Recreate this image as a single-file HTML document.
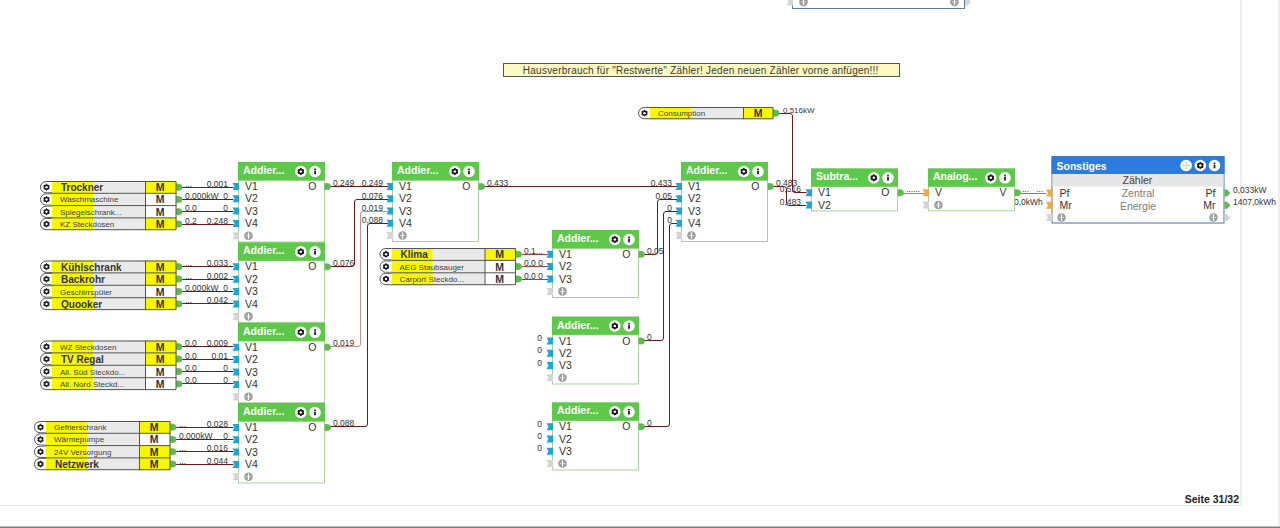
<!DOCTYPE html><html><head><meta charset="utf-8"><style>html,body{margin:0;padding:0;background:#fff;overflow:hidden} svg{display:block} text{font-family:"Liberation Sans", sans-serif}</style></head><body>
<svg width="1280" height="528" viewBox="0 0 1280 528">
<rect x="1240" y="0" width="2" height="506" fill="#f0f0f0"/>
<rect x="0" y="505" width="1241" height="1" fill="#e4e4e4"/>
<rect x="1278" y="0" width="2" height="526" fill="#f0f0f0"/>
<rect x="0" y="526.5" width="1280" height="1.5" fill="#7e7e7e"/>
<text x="1239" y="503" font-size="10.5" font-weight="bold" fill="#222" text-anchor="end" >Seite 31/32</text>
<rect x="792.5" y="-10" width="172" height="18.5" fill="#fff" stroke="#5a7f99" stroke-width="1"/>
<path d="M786.5,-1.5 L793,-1.5 L793,5.5 L786.5,5.5 L788.5,2 Z" fill="#d4d4d4"/>
<circle cx="803.5" cy="2" r="4.3" fill="#9c9c9c"/>
<rect x="800.7" y="1.5" width="5.6" height="1" fill="#d8d8d8"/>
<rect x="802.9" y="-1.2000000000000002" width="1.2" height="6.4" fill="#fff"/>
<circle cx="954.5" cy="2" r="4.3" fill="#9c9c9c"/>
<rect x="951.7" y="1.5" width="5.6" height="1" fill="#d8d8d8"/>
<rect x="953.9" y="-1.2000000000000002" width="1.2" height="6.4" fill="#fff"/>
<path d="M965,-1.5 L967.5,-1.5 L971,2 L967.5,5.5 L965,5.5 Z" fill="#d4d4d4"/>
<rect x="503.5" y="63.5" width="396" height="13" fill="#fdf9c0" stroke="#555" stroke-width="1"/>
<text x="522.8" y="73.6" font-size="10" font-weight="normal" fill="#3a3a30" text-anchor="start" textLength="355.6" lengthAdjust="spacing">Hausverbrauch für "Restwerte" Zähler! Jeden neuen Zähler vorne anfügen!!!</text>
<path d="M178.5,187.5 L233.5,187.5" fill="none" stroke="#6e1818" stroke-width="1"/>
<text x="185" y="186.65" font-size="8.5" font-weight="normal" fill="#333" text-anchor="start" >...</text>
<text x="228" y="186.65" font-size="8.5" font-weight="normal" fill="#333" text-anchor="end" >0,001</text>
<path d="M178.5,199.5 L233.5,199.5" fill="none" stroke="#6e1818" stroke-width="1"/>
<text x="185" y="198.95000000000002" font-size="8.5" font-weight="normal" fill="#333" text-anchor="start" >0,000kW</text>
<text x="228" y="198.95000000000002" font-size="8.5" font-weight="normal" fill="#333" text-anchor="end" >0</text>
<path d="M178.5,211.5 L233.5,211.5" fill="none" stroke="#6e1818" stroke-width="1"/>
<text x="185" y="211.25" font-size="8.5" font-weight="normal" fill="#333" text-anchor="start" >0,0</text>
<text x="228" y="211.25" font-size="8.5" font-weight="normal" fill="#333" text-anchor="end" >0</text>
<path d="M178.5,224.5 L233.5,224.5" fill="none" stroke="#6e1818" stroke-width="1"/>
<text x="185" y="223.55" font-size="8.5" font-weight="normal" fill="#333" text-anchor="start" >0,2</text>
<text x="228" y="223.55" font-size="8.5" font-weight="normal" fill="#333" text-anchor="end" >0,248</text>
<path d="M178.5,266.5 L233.5,266.5" fill="none" stroke="#6e1818" stroke-width="1"/>
<text x="185" y="266.2" font-size="8.5" font-weight="normal" fill="#333" text-anchor="start" >...</text>
<text x="228" y="266.2" font-size="8.5" font-weight="normal" fill="#333" text-anchor="end" >0,033</text>
<path d="M178.5,279.5 L233.5,279.5" fill="none" stroke="#6e1818" stroke-width="1"/>
<text x="185" y="278.59999999999997" font-size="8.5" font-weight="normal" fill="#333" text-anchor="start" >...</text>
<text x="228" y="278.59999999999997" font-size="8.5" font-weight="normal" fill="#333" text-anchor="end" >0,002</text>
<path d="M178.5,291.5 L233.5,291.5" fill="none" stroke="#6e1818" stroke-width="1"/>
<text x="185" y="291.0" font-size="8.5" font-weight="normal" fill="#333" text-anchor="start" >0,000kW</text>
<text x="228" y="291.0" font-size="8.5" font-weight="normal" fill="#333" text-anchor="end" >0</text>
<path d="M178.5,303.5 L233.5,303.5" fill="none" stroke="#6e1818" stroke-width="1"/>
<text x="185" y="303.4" font-size="8.5" font-weight="normal" fill="#333" text-anchor="start" >...</text>
<text x="228" y="303.4" font-size="8.5" font-weight="normal" fill="#333" text-anchor="end" >0,042</text>
<path d="M178.5,346.5 L233.5,346.5" fill="none" stroke="#6e1818" stroke-width="1"/>
<text x="185" y="346.2" font-size="8.5" font-weight="normal" fill="#333" text-anchor="start" >0,0</text>
<text x="228" y="346.2" font-size="8.5" font-weight="normal" fill="#333" text-anchor="end" >0,009</text>
<path d="M178.5,359.5 L233.5,359.5" fill="none" stroke="#6e1818" stroke-width="1"/>
<text x="185" y="358.59999999999997" font-size="8.5" font-weight="normal" fill="#333" text-anchor="start" >0,0</text>
<text x="228" y="358.59999999999997" font-size="8.5" font-weight="normal" fill="#333" text-anchor="end" >0,01</text>
<path d="M178.5,371.5 L233.5,371.5" fill="none" stroke="#6e1818" stroke-width="1"/>
<text x="185" y="371.0" font-size="8.5" font-weight="normal" fill="#333" text-anchor="start" >0,0</text>
<text x="228" y="371.0" font-size="8.5" font-weight="normal" fill="#333" text-anchor="end" >0</text>
<path d="M178.5,383.5 L233.5,383.5" fill="none" stroke="#6e1818" stroke-width="1"/>
<text x="185" y="383.4" font-size="8.5" font-weight="normal" fill="#333" text-anchor="start" >0,0</text>
<text x="228" y="383.4" font-size="8.5" font-weight="normal" fill="#333" text-anchor="end" >0</text>
<path d="M172.5,427.5 L233.5,427.5" fill="none" stroke="#6e1818" stroke-width="1"/>
<text x="179" y="426.65" font-size="8.5" font-weight="normal" fill="#333" text-anchor="start" >...</text>
<text x="228" y="426.65" font-size="8.5" font-weight="normal" fill="#333" text-anchor="end" >0,028</text>
<path d="M172.5,439.5 L233.5,439.5" fill="none" stroke="#6e1818" stroke-width="1"/>
<text x="179" y="438.95" font-size="8.5" font-weight="normal" fill="#333" text-anchor="start" >0,000kW</text>
<text x="228" y="438.95" font-size="8.5" font-weight="normal" fill="#333" text-anchor="end" >0</text>
<path d="M172.5,451.5 L233.5,451.5" fill="none" stroke="#6e1818" stroke-width="1"/>
<text x="179" y="451.25" font-size="8.5" font-weight="normal" fill="#333" text-anchor="start" >...</text>
<text x="228" y="451.25" font-size="8.5" font-weight="normal" fill="#333" text-anchor="end" >0,016</text>
<path d="M172.5,464.5 L233.5,464.5" fill="none" stroke="#6e1818" stroke-width="1"/>
<text x="179" y="463.54999999999995" font-size="8.5" font-weight="normal" fill="#333" text-anchor="start" >...</text>
<text x="228" y="463.54999999999995" font-size="8.5" font-weight="normal" fill="#333" text-anchor="end" >0,044</text>
<path d="M326.5,186.5 L388.5,186.5" fill="none" stroke="#6e1818" stroke-width="1"/>
<path d="M326.5,266.5 L352.00,266.50 Q354.5,266.5 354.50,264.00 L354.50,202.00 Q354.5,199.5 357.00,199.50 L388.5,199.5" fill="none" stroke="#6e1818" stroke-width="1"/>
<path d="M326.5,346.5 L358.00,346.50 Q360.5,346.5 360.50,344.00 L360.50,214.00 Q360.5,211.5 363.00,211.50 L388.5,211.5" fill="none" stroke="#c99090" stroke-width="1"/>
<path d="M326.5,426.5 L365.00,426.50 Q367.5,426.5 367.50,424.00 L367.50,226.00 Q367.5,223.5 370.00,223.50 L388.5,223.5" fill="none" stroke="#6e1818" stroke-width="1"/>
<text x="333" y="186" font-size="8.5" font-weight="normal" fill="#333" text-anchor="start" >0,249</text>
<text x="383" y="186" font-size="8.5" font-weight="normal" fill="#333" text-anchor="end" >0,249</text>
<text x="333" y="266" font-size="8.5" font-weight="normal" fill="#333" text-anchor="start" >0,076</text>
<text x="383" y="198.5" font-size="8.5" font-weight="normal" fill="#333" text-anchor="end" >0,076</text>
<text x="333" y="346.3" font-size="8.5" font-weight="normal" fill="#333" text-anchor="start" >0,019</text>
<text x="383" y="210.8" font-size="8.5" font-weight="normal" fill="#333" text-anchor="end" >0,019</text>
<text x="333" y="426.3" font-size="8.5" font-weight="normal" fill="#333" text-anchor="start" >0,088</text>
<text x="383" y="223" font-size="8.5" font-weight="normal" fill="#333" text-anchor="end" >0,088</text>
<path d="M517.5,254.5 L548.5,254.5" fill="none" stroke="#a04040" stroke-width="1"/>
<text x="524" y="253.7" font-size="8.5" font-weight="normal" fill="#333" text-anchor="start" >0,1...</text>
<path d="M517.5,266.5 L548.5,266.5" fill="none" stroke="#a04040" stroke-width="1"/>
<text x="524" y="266.09999999999997" font-size="8.5" font-weight="normal" fill="#333" text-anchor="start" >0,0  0</text>
<path d="M517.5,279.5 L548.5,279.5" fill="none" stroke="#a04040" stroke-width="1"/>
<text x="524" y="278.5" font-size="8.5" font-weight="normal" fill="#333" text-anchor="start" >0,0  0</text>
<path d="M480.5,186.5 L677.5,186.5" fill="none" stroke="#6e1818" stroke-width="1"/>
<path d="M640.5,254.5 L655.00,254.50 Q657.5,254.5 657.50,252.00 L657.50,202.00 Q657.5,199.5 660.00,199.50 L677.5,199.5" fill="none" stroke="#6e1818" stroke-width="1"/>
<path d="M640.5,340.5 L661.00,340.50 Q663.5,340.5 663.50,338.00 L663.50,214.00 Q663.5,211.5 666.00,211.50 L677.5,211.5" fill="none" stroke="#6e1818" stroke-width="1"/>
<path d="M640.5,426.5 L667.00,426.50 Q669.5,426.5 669.50,424.00 L669.50,226.00 Q669.5,223.5 672.00,223.50 L677.5,223.5" fill="none" stroke="#6e1818" stroke-width="1"/>
<text x="487" y="186" font-size="8.5" font-weight="normal" fill="#333" text-anchor="start" >0,433</text>
<text x="672" y="186" font-size="8.5" font-weight="normal" fill="#333" text-anchor="end" >0,433</text>
<text x="647" y="254" font-size="8.5" font-weight="normal" fill="#333" text-anchor="start" >0,05</text>
<text x="672" y="198.5" font-size="8.5" font-weight="normal" fill="#333" text-anchor="end" >0,05</text>
<text x="647" y="340.4" font-size="8.5" font-weight="normal" fill="#333" text-anchor="start" >0</text>
<text x="672" y="210.8" font-size="8.5" font-weight="normal" fill="#333" text-anchor="end" >0</text>
<text x="647" y="426.3" font-size="8.5" font-weight="normal" fill="#333" text-anchor="start" >0</text>
<text x="672" y="223" font-size="8.5" font-weight="normal" fill="#333" text-anchor="end" >0</text>
<text x="542" y="341.0" font-size="8.5" font-weight="normal" fill="#333" text-anchor="end" >0</text>
<text x="542" y="353.25" font-size="8.5" font-weight="normal" fill="#333" text-anchor="end" >0</text>
<text x="542" y="365.5" font-size="8.5" font-weight="normal" fill="#333" text-anchor="end" >0</text>
<text x="542" y="426.5" font-size="8.5" font-weight="normal" fill="#333" text-anchor="end" >0</text>
<text x="542" y="438.75" font-size="8.5" font-weight="normal" fill="#333" text-anchor="end" >0</text>
<text x="542" y="451.0" font-size="8.5" font-weight="normal" fill="#333" text-anchor="end" >0</text>
<path d="M770.5,186.5 L784.00,186.50 Q786.5,186.5 786.50,189.00 L786.50,203.00 Q786.5,205.5 789.00,205.50 L806.5,205.5" fill="none" stroke="#6e1818" stroke-width="1"/>
<path d="M777.5,113.5 L790.00,113.50 Q792.5,113.5 792.50,116.00 L792.50,190.00 Q792.5,192.5 795.00,192.50 L806.5,192.5" fill="none" stroke="#6e1818" stroke-width="1"/>
<text x="783" y="112.5" font-size="8" font-weight="normal" fill="#333" text-anchor="start" >0,516kW</text>
<text x="776" y="186" font-size="8.5" font-weight="normal" fill="#333" text-anchor="start" >0,483</text>
<text x="801" y="192" font-size="8.5" font-weight="normal" fill="#333" text-anchor="end" >0,516</text>
<text x="801" y="204.5" font-size="8.5" font-weight="normal" fill="#333" text-anchor="end" >0,483</text>
<path d="M900.5,193.5 L924.5,193.5" fill="none" stroke="#e06a50" stroke-width="1"/>
<text x="906" y="192" font-size="8.5" font-weight="normal" fill="#333" text-anchor="start" >......</text>
<path d="M1017.5,193.5 L1046.5,193.5" fill="none" stroke="#c86060" stroke-width="1"/>
<text x="1022" y="192" font-size="8.5" font-weight="normal" fill="#333" text-anchor="start" >...</text>
<text x="1036" y="192" font-size="8.5" font-weight="normal" fill="#333" text-anchor="start" >...</text>
<text x="1014" y="205" font-size="8.5" font-weight="normal" fill="#333" text-anchor="start" >0,0kWh</text>
<rect x="52" y="181.0" width="124.5" height="12.3" fill="#e9e9e9"/>
<rect x="52" y="181.0" width="41" height="12.3" fill="#f7f700"/>
<rect x="145.5" y="181.0" width="31.0" height="12.3" fill="#f7f700"/>
<path d="M52,181.0 L46.15,181.0 A6.15,6.15 0 0 0 46.15,193.3 L52,193.3 Z" fill="#fff"/>
<path d="M52,181.5 L46.15,181.5 A5.65,5.65 0 0 0 46.15,192.8 L52,192.8" fill="none" stroke="#555" stroke-width="1"/>
<path d="M46.50,184.15 L47.64,185.18 L49.10,185.65 L48.78,187.15 L49.10,188.65 L47.64,189.12 L46.50,190.15 L45.36,189.12 L43.90,188.65 L44.22,187.15 L43.90,185.65 L45.36,185.18Z" fill="#111" stroke="#111" stroke-width="1" stroke-linejoin="round"/>
<circle cx="46.5" cy="187.15" r="1.20" fill="#fff"/>
<text x="61" y="190.95000000000002" font-size="10" font-weight="bold" fill="#333" text-anchor="start" >Trockner</text>
<text x="160.2" y="191.15" font-size="10.5" font-weight="bold" fill="#333" text-anchor="middle" >M</text>
<path d="M176.5,184.15 L179.0,184.15 A3,3 0 0 1 179.0,190.15 L176.5,190.15 Z" fill="#5dbb4e" stroke="#5dbb4e" stroke-width="0.8"/>
<rect x="52" y="193.3" width="124.5" height="12.3" fill="#e9e9e9"/>
<rect x="52" y="193.3" width="41" height="12.3" fill="#f7f700"/>
<rect x="145.5" y="193.3" width="31.0" height="12.3" fill="#fff"/>
<path d="M52,193.3 L46.15,193.3 A6.15,6.15 0 0 0 46.15,205.60000000000002 L52,205.60000000000002 Z" fill="#fff"/>
<path d="M52,193.8 L46.15,193.8 A5.65,5.65 0 0 0 46.15,205.10000000000002 L52,205.10000000000002" fill="none" stroke="#555" stroke-width="1"/>
<path d="M46.50,196.45 L47.64,197.48 L49.10,197.95 L48.78,199.45 L49.10,200.95 L47.64,201.42 L46.50,202.45 L45.36,201.42 L43.90,200.95 L44.22,199.45 L43.90,197.95 L45.36,197.48Z" fill="#111" stroke="#111" stroke-width="1" stroke-linejoin="round"/>
<circle cx="46.5" cy="199.45000000000002" r="1.20" fill="#fff"/>
<text x="60" y="202.45000000000002" font-size="8" font-weight="normal" fill="#444" text-anchor="start" >Waschmaschine</text>
<text x="160.2" y="203.45000000000002" font-size="10.5" font-weight="bold" fill="#333" text-anchor="middle" >M</text>
<path d="M176.5,196.45000000000002 L179.0,196.45000000000002 A3,3 0 0 1 179.0,202.45000000000002 L176.5,202.45000000000002 Z" fill="#5dbb4e" stroke="#5dbb4e" stroke-width="0.8"/>
<rect x="52" y="205.6" width="124.5" height="12.3" fill="#e9e9e9"/>
<rect x="52" y="205.6" width="41" height="12.3" fill="#f7f700"/>
<rect x="145.5" y="205.6" width="31.0" height="12.3" fill="#fff"/>
<path d="M52,205.6 L46.15,205.6 A6.15,6.15 0 0 0 46.15,217.9 L52,217.9 Z" fill="#fff"/>
<path d="M52,206.1 L46.15,206.1 A5.65,5.65 0 0 0 46.15,217.4 L52,217.4" fill="none" stroke="#555" stroke-width="1"/>
<path d="M46.50,208.75 L47.64,209.78 L49.10,210.25 L48.78,211.75 L49.10,213.25 L47.64,213.72 L46.50,214.75 L45.36,213.72 L43.90,213.25 L44.22,211.75 L43.90,210.25 L45.36,209.78Z" fill="#111" stroke="#111" stroke-width="1" stroke-linejoin="round"/>
<circle cx="46.5" cy="211.75" r="1.20" fill="#fff"/>
<text x="60" y="214.75" font-size="8" font-weight="normal" fill="#444" text-anchor="start" >Spiegelschrank...</text>
<text x="160.2" y="215.75" font-size="10.5" font-weight="bold" fill="#333" text-anchor="middle" >M</text>
<path d="M176.5,208.75 L179.0,208.75 A3,3 0 0 1 179.0,214.75 L176.5,214.75 Z" fill="#5dbb4e" stroke="#5dbb4e" stroke-width="0.8"/>
<rect x="52" y="217.9" width="124.5" height="12.3" fill="#e9e9e9"/>
<rect x="52" y="217.9" width="41" height="12.3" fill="#f7f700"/>
<rect x="145.5" y="217.9" width="31.0" height="12.3" fill="#f7f700"/>
<path d="M52,217.9 L46.15,217.9 A6.15,6.15 0 0 0 46.15,230.20000000000002 L52,230.20000000000002 Z" fill="#fff"/>
<path d="M52,218.4 L46.15,218.4 A5.65,5.65 0 0 0 46.15,229.70000000000002 L52,229.70000000000002" fill="none" stroke="#555" stroke-width="1"/>
<path d="M46.50,221.05 L47.64,222.08 L49.10,222.55 L48.78,224.05 L49.10,225.55 L47.64,226.02 L46.50,227.05 L45.36,226.02 L43.90,225.55 L44.22,224.05 L43.90,222.55 L45.36,222.08Z" fill="#111" stroke="#111" stroke-width="1" stroke-linejoin="round"/>
<circle cx="46.5" cy="224.05" r="1.20" fill="#fff"/>
<text x="60" y="227.05" font-size="8" font-weight="normal" fill="#444" text-anchor="start" >KZ Steckdosen</text>
<text x="160.2" y="228.05" font-size="10.5" font-weight="bold" fill="#333" text-anchor="middle" >M</text>
<path d="M176.5,221.05 L179.0,221.05 A3,3 0 0 1 179.0,227.05 L176.5,227.05 Z" fill="#5dbb4e" stroke="#5dbb4e" stroke-width="0.8"/>
<path d="M52,181.5 H176.0 V229.7 H52" fill="none" stroke="#555" stroke-width="1"/>
<line x1="52" y1="193.3" x2="176.5" y2="193.3" stroke="#555" stroke-width="1"/>
<line x1="52" y1="205.6" x2="176.5" y2="205.6" stroke="#555" stroke-width="1"/>
<line x1="52" y1="217.9" x2="176.5" y2="217.9" stroke="#555" stroke-width="1"/>
<line x1="145.5" y1="181" x2="145.5" y2="230.2" stroke="#555" stroke-width="1"/>
<rect x="52" y="260.5" width="124.5" height="12.4" fill="#e9e9e9"/>
<rect x="52" y="260.5" width="41" height="12.4" fill="#f7f700"/>
<rect x="145.5" y="260.5" width="31.0" height="12.4" fill="#f7f700"/>
<path d="M52,260.5 L46.2,260.5 A6.2,6.2 0 0 0 46.2,272.9 L52,272.9 Z" fill="#fff"/>
<path d="M52,261.0 L46.2,261.0 A5.7,5.7 0 0 0 46.2,272.4 L52,272.4" fill="none" stroke="#555" stroke-width="1"/>
<path d="M46.50,263.70 L47.64,264.73 L49.10,265.20 L48.78,266.70 L49.10,268.20 L47.64,268.67 L46.50,269.70 L45.36,268.67 L43.90,268.20 L44.22,266.70 L43.90,265.20 L45.36,264.73Z" fill="#111" stroke="#111" stroke-width="1" stroke-linejoin="round"/>
<circle cx="46.5" cy="266.7" r="1.20" fill="#fff"/>
<text x="61" y="270.5" font-size="10" font-weight="bold" fill="#333" text-anchor="start" >Kühlschrank</text>
<text x="160.2" y="270.7" font-size="10.5" font-weight="bold" fill="#333" text-anchor="middle" >M</text>
<path d="M176.5,263.7 L179.0,263.7 A3,3 0 0 1 179.0,269.7 L176.5,269.7 Z" fill="#5dbb4e" stroke="#5dbb4e" stroke-width="0.8"/>
<rect x="52" y="272.9" width="124.5" height="12.4" fill="#e9e9e9"/>
<rect x="52" y="272.9" width="41" height="12.4" fill="#f7f700"/>
<rect x="145.5" y="272.9" width="31.0" height="12.4" fill="#f7f700"/>
<path d="M52,272.9 L46.2,272.9 A6.2,6.2 0 0 0 46.2,285.29999999999995 L52,285.29999999999995 Z" fill="#fff"/>
<path d="M52,273.4 L46.2,273.4 A5.7,5.7 0 0 0 46.2,284.79999999999995 L52,284.79999999999995" fill="none" stroke="#555" stroke-width="1"/>
<path d="M46.50,276.10 L47.64,277.13 L49.10,277.60 L48.78,279.10 L49.10,280.60 L47.64,281.07 L46.50,282.10 L45.36,281.07 L43.90,280.60 L44.22,279.10 L43.90,277.60 L45.36,277.13Z" fill="#111" stroke="#111" stroke-width="1" stroke-linejoin="round"/>
<circle cx="46.5" cy="279.09999999999997" r="1.20" fill="#fff"/>
<text x="61" y="282.9" font-size="10" font-weight="bold" fill="#333" text-anchor="start" >Backrohr</text>
<text x="160.2" y="283.09999999999997" font-size="10.5" font-weight="bold" fill="#333" text-anchor="middle" >M</text>
<path d="M176.5,276.09999999999997 L179.0,276.09999999999997 A3,3 0 0 1 179.0,282.09999999999997 L176.5,282.09999999999997 Z" fill="#5dbb4e" stroke="#5dbb4e" stroke-width="0.8"/>
<rect x="52" y="285.3" width="124.5" height="12.4" fill="#e9e9e9"/>
<rect x="52" y="285.3" width="41" height="12.4" fill="#f7f700"/>
<rect x="145.5" y="285.3" width="31.0" height="12.4" fill="#fff"/>
<path d="M52,285.3 L46.2,285.3 A6.2,6.2 0 0 0 46.2,297.7 L52,297.7 Z" fill="#fff"/>
<path d="M52,285.8 L46.2,285.8 A5.7,5.7 0 0 0 46.2,297.2 L52,297.2" fill="none" stroke="#555" stroke-width="1"/>
<path d="M46.50,288.50 L47.64,289.53 L49.10,290.00 L48.78,291.50 L49.10,293.00 L47.64,293.47 L46.50,294.50 L45.36,293.47 L43.90,293.00 L44.22,291.50 L43.90,290.00 L45.36,289.53Z" fill="#111" stroke="#111" stroke-width="1" stroke-linejoin="round"/>
<circle cx="46.5" cy="291.5" r="1.20" fill="#fff"/>
<text x="60" y="294.5" font-size="8" font-weight="normal" fill="#444" text-anchor="start" >Geschirrspüler</text>
<text x="160.2" y="295.5" font-size="10.5" font-weight="bold" fill="#333" text-anchor="middle" >M</text>
<path d="M176.5,288.5 L179.0,288.5 A3,3 0 0 1 179.0,294.5 L176.5,294.5 Z" fill="#5dbb4e" stroke="#5dbb4e" stroke-width="0.8"/>
<rect x="52" y="297.7" width="124.5" height="12.4" fill="#e9e9e9"/>
<rect x="52" y="297.7" width="41" height="12.4" fill="#f7f700"/>
<rect x="145.5" y="297.7" width="31.0" height="12.4" fill="#f7f700"/>
<path d="M52,297.7 L46.2,297.7 A6.2,6.2 0 0 0 46.2,310.09999999999997 L52,310.09999999999997 Z" fill="#fff"/>
<path d="M52,298.2 L46.2,298.2 A5.7,5.7 0 0 0 46.2,309.59999999999997 L52,309.59999999999997" fill="none" stroke="#555" stroke-width="1"/>
<path d="M46.50,300.90 L47.64,301.93 L49.10,302.40 L48.78,303.90 L49.10,305.40 L47.64,305.87 L46.50,306.90 L45.36,305.87 L43.90,305.40 L44.22,303.90 L43.90,302.40 L45.36,301.93Z" fill="#111" stroke="#111" stroke-width="1" stroke-linejoin="round"/>
<circle cx="46.5" cy="303.9" r="1.20" fill="#fff"/>
<text x="61" y="307.7" font-size="10" font-weight="bold" fill="#333" text-anchor="start" >Quooker</text>
<text x="160.2" y="307.9" font-size="10.5" font-weight="bold" fill="#333" text-anchor="middle" >M</text>
<path d="M176.5,300.9 L179.0,300.9 A3,3 0 0 1 179.0,306.9 L176.5,306.9 Z" fill="#5dbb4e" stroke="#5dbb4e" stroke-width="0.8"/>
<path d="M52,261.0 H176.0 V309.6 H52" fill="none" stroke="#555" stroke-width="1"/>
<line x1="52" y1="272.9" x2="176.5" y2="272.9" stroke="#555" stroke-width="1"/>
<line x1="52" y1="285.3" x2="176.5" y2="285.3" stroke="#555" stroke-width="1"/>
<line x1="52" y1="297.7" x2="176.5" y2="297.7" stroke="#555" stroke-width="1"/>
<line x1="145.5" y1="260.5" x2="145.5" y2="310.1" stroke="#555" stroke-width="1"/>
<rect x="52" y="340.5" width="124.5" height="12.4" fill="#e9e9e9"/>
<rect x="52" y="340.5" width="41" height="12.4" fill="#f7f700"/>
<rect x="145.5" y="340.5" width="31.0" height="12.4" fill="#f7f700"/>
<path d="M52,340.5 L46.2,340.5 A6.2,6.2 0 0 0 46.2,352.9 L52,352.9 Z" fill="#fff"/>
<path d="M52,341.0 L46.2,341.0 A5.7,5.7 0 0 0 46.2,352.4 L52,352.4" fill="none" stroke="#555" stroke-width="1"/>
<path d="M46.50,343.70 L47.64,344.73 L49.10,345.20 L48.78,346.70 L49.10,348.20 L47.64,348.67 L46.50,349.70 L45.36,348.67 L43.90,348.20 L44.22,346.70 L43.90,345.20 L45.36,344.73Z" fill="#111" stroke="#111" stroke-width="1" stroke-linejoin="round"/>
<circle cx="46.5" cy="346.7" r="1.20" fill="#fff"/>
<text x="60" y="349.7" font-size="8" font-weight="normal" fill="#444" text-anchor="start" >WZ Steckdosen</text>
<text x="160.2" y="350.7" font-size="10.5" font-weight="bold" fill="#333" text-anchor="middle" >M</text>
<path d="M176.5,343.7 L179.0,343.7 A3,3 0 0 1 179.0,349.7 L176.5,349.7 Z" fill="#5dbb4e" stroke="#5dbb4e" stroke-width="0.8"/>
<rect x="52" y="352.9" width="124.5" height="12.4" fill="#e9e9e9"/>
<rect x="52" y="352.9" width="41" height="12.4" fill="#f7f700"/>
<rect x="145.5" y="352.9" width="31.0" height="12.4" fill="#f7f700"/>
<path d="M52,352.9 L46.2,352.9 A6.2,6.2 0 0 0 46.2,365.29999999999995 L52,365.29999999999995 Z" fill="#fff"/>
<path d="M52,353.4 L46.2,353.4 A5.7,5.7 0 0 0 46.2,364.79999999999995 L52,364.79999999999995" fill="none" stroke="#555" stroke-width="1"/>
<path d="M46.50,356.10 L47.64,357.13 L49.10,357.60 L48.78,359.10 L49.10,360.60 L47.64,361.07 L46.50,362.10 L45.36,361.07 L43.90,360.60 L44.22,359.10 L43.90,357.60 L45.36,357.13Z" fill="#111" stroke="#111" stroke-width="1" stroke-linejoin="round"/>
<circle cx="46.5" cy="359.09999999999997" r="1.20" fill="#fff"/>
<text x="61" y="362.9" font-size="10" font-weight="bold" fill="#333" text-anchor="start" >TV Regal</text>
<text x="160.2" y="363.09999999999997" font-size="10.5" font-weight="bold" fill="#333" text-anchor="middle" >M</text>
<path d="M176.5,356.09999999999997 L179.0,356.09999999999997 A3,3 0 0 1 179.0,362.09999999999997 L176.5,362.09999999999997 Z" fill="#5dbb4e" stroke="#5dbb4e" stroke-width="0.8"/>
<rect x="52" y="365.3" width="124.5" height="12.4" fill="#e9e9e9"/>
<rect x="52" y="365.3" width="41" height="12.4" fill="#f7f700"/>
<rect x="145.5" y="365.3" width="31.0" height="12.4" fill="#fff"/>
<path d="M52,365.3 L46.2,365.3 A6.2,6.2 0 0 0 46.2,377.7 L52,377.7 Z" fill="#fff"/>
<path d="M52,365.8 L46.2,365.8 A5.7,5.7 0 0 0 46.2,377.2 L52,377.2" fill="none" stroke="#555" stroke-width="1"/>
<path d="M46.50,368.50 L47.64,369.53 L49.10,370.00 L48.78,371.50 L49.10,373.00 L47.64,373.47 L46.50,374.50 L45.36,373.47 L43.90,373.00 L44.22,371.50 L43.90,370.00 L45.36,369.53Z" fill="#111" stroke="#111" stroke-width="1" stroke-linejoin="round"/>
<circle cx="46.5" cy="371.5" r="1.20" fill="#fff"/>
<text x="60" y="374.5" font-size="8" font-weight="normal" fill="#444" text-anchor="start" >All. Süd Steckdo...</text>
<text x="160.2" y="375.5" font-size="10.5" font-weight="bold" fill="#333" text-anchor="middle" >M</text>
<path d="M176.5,368.5 L179.0,368.5 A3,3 0 0 1 179.0,374.5 L176.5,374.5 Z" fill="#5dbb4e" stroke="#5dbb4e" stroke-width="0.8"/>
<rect x="52" y="377.7" width="124.5" height="12.4" fill="#e9e9e9"/>
<rect x="52" y="377.7" width="41" height="12.4" fill="#f7f700"/>
<rect x="145.5" y="377.7" width="31.0" height="12.4" fill="#fff"/>
<path d="M52,377.7 L46.2,377.7 A6.2,6.2 0 0 0 46.2,390.09999999999997 L52,390.09999999999997 Z" fill="#fff"/>
<path d="M52,378.2 L46.2,378.2 A5.7,5.7 0 0 0 46.2,389.59999999999997 L52,389.59999999999997" fill="none" stroke="#555" stroke-width="1"/>
<path d="M46.50,380.90 L47.64,381.93 L49.10,382.40 L48.78,383.90 L49.10,385.40 L47.64,385.87 L46.50,386.90 L45.36,385.87 L43.90,385.40 L44.22,383.90 L43.90,382.40 L45.36,381.93Z" fill="#111" stroke="#111" stroke-width="1" stroke-linejoin="round"/>
<circle cx="46.5" cy="383.9" r="1.20" fill="#fff"/>
<text x="60" y="386.9" font-size="8" font-weight="normal" fill="#444" text-anchor="start" >All. Nord Steckd...</text>
<text x="160.2" y="387.9" font-size="10.5" font-weight="bold" fill="#333" text-anchor="middle" >M</text>
<path d="M176.5,380.9 L179.0,380.9 A3,3 0 0 1 179.0,386.9 L176.5,386.9 Z" fill="#5dbb4e" stroke="#5dbb4e" stroke-width="0.8"/>
<path d="M52,341.0 H176.0 V389.6 H52" fill="none" stroke="#555" stroke-width="1"/>
<line x1="52" y1="352.9" x2="176.5" y2="352.9" stroke="#555" stroke-width="1"/>
<line x1="52" y1="365.3" x2="176.5" y2="365.3" stroke="#555" stroke-width="1"/>
<line x1="52" y1="377.7" x2="176.5" y2="377.7" stroke="#555" stroke-width="1"/>
<line x1="145.5" y1="340.5" x2="145.5" y2="390.1" stroke="#555" stroke-width="1"/>
<rect x="46" y="421.0" width="124.5" height="12.3" fill="#e9e9e9"/>
<rect x="46" y="421.0" width="41" height="12.3" fill="#f7f700"/>
<rect x="139.5" y="421.0" width="31.0" height="12.3" fill="#f7f700"/>
<path d="M46,421.0 L40.15,421.0 A6.15,6.15 0 0 0 40.15,433.3 L46,433.3 Z" fill="#fff"/>
<path d="M46,421.5 L40.15,421.5 A5.65,5.65 0 0 0 40.15,432.8 L46,432.8" fill="none" stroke="#555" stroke-width="1"/>
<path d="M40.50,424.15 L41.64,425.18 L43.10,425.65 L42.78,427.15 L43.10,428.65 L41.64,429.12 L40.50,430.15 L39.36,429.12 L37.90,428.65 L38.22,427.15 L37.90,425.65 L39.36,425.18Z" fill="#111" stroke="#111" stroke-width="1" stroke-linejoin="round"/>
<circle cx="40.5" cy="427.15" r="1.20" fill="#fff"/>
<text x="54" y="430.15" font-size="8" font-weight="normal" fill="#444" text-anchor="start" >Gefrierschrank</text>
<text x="154.2" y="431.15" font-size="10.5" font-weight="bold" fill="#333" text-anchor="middle" >M</text>
<path d="M170.5,424.15 L173.0,424.15 A3,3 0 0 1 173.0,430.15 L170.5,430.15 Z" fill="#5dbb4e" stroke="#5dbb4e" stroke-width="0.8"/>
<rect x="46" y="433.3" width="124.5" height="12.3" fill="#e9e9e9"/>
<rect x="46" y="433.3" width="41" height="12.3" fill="#f7f700"/>
<rect x="139.5" y="433.3" width="31.0" height="12.3" fill="#fff"/>
<path d="M46,433.3 L40.15,433.3 A6.15,6.15 0 0 0 40.15,445.6 L46,445.6 Z" fill="#fff"/>
<path d="M46,433.8 L40.15,433.8 A5.65,5.65 0 0 0 40.15,445.1 L46,445.1" fill="none" stroke="#555" stroke-width="1"/>
<path d="M40.50,436.45 L41.64,437.48 L43.10,437.95 L42.78,439.45 L43.10,440.95 L41.64,441.42 L40.50,442.45 L39.36,441.42 L37.90,440.95 L38.22,439.45 L37.90,437.95 L39.36,437.48Z" fill="#111" stroke="#111" stroke-width="1" stroke-linejoin="round"/>
<circle cx="40.5" cy="439.45" r="1.20" fill="#fff"/>
<text x="54" y="442.45" font-size="8" font-weight="normal" fill="#444" text-anchor="start" >Wärmepumpe</text>
<text x="154.2" y="443.45" font-size="10.5" font-weight="bold" fill="#333" text-anchor="middle" >M</text>
<path d="M170.5,436.45 L173.0,436.45 A3,3 0 0 1 173.0,442.45 L170.5,442.45 Z" fill="#5dbb4e" stroke="#5dbb4e" stroke-width="0.8"/>
<rect x="46" y="445.6" width="124.5" height="12.3" fill="#e9e9e9"/>
<rect x="46" y="445.6" width="41" height="12.3" fill="#f7f700"/>
<rect x="139.5" y="445.6" width="31.0" height="12.3" fill="#f7f700"/>
<path d="M46,445.6 L40.15,445.6 A6.15,6.15 0 0 0 40.15,457.90000000000003 L46,457.90000000000003 Z" fill="#fff"/>
<path d="M46,446.1 L40.15,446.1 A5.65,5.65 0 0 0 40.15,457.40000000000003 L46,457.40000000000003" fill="none" stroke="#555" stroke-width="1"/>
<path d="M40.50,448.75 L41.64,449.78 L43.10,450.25 L42.78,451.75 L43.10,453.25 L41.64,453.72 L40.50,454.75 L39.36,453.72 L37.90,453.25 L38.22,451.75 L37.90,450.25 L39.36,449.78Z" fill="#111" stroke="#111" stroke-width="1" stroke-linejoin="round"/>
<circle cx="40.5" cy="451.75" r="1.20" fill="#fff"/>
<text x="54" y="454.75" font-size="8" font-weight="normal" fill="#444" text-anchor="start" >24V Versorgung</text>
<text x="154.2" y="455.75" font-size="10.5" font-weight="bold" fill="#333" text-anchor="middle" >M</text>
<path d="M170.5,448.75 L173.0,448.75 A3,3 0 0 1 173.0,454.75 L170.5,454.75 Z" fill="#5dbb4e" stroke="#5dbb4e" stroke-width="0.8"/>
<rect x="46" y="457.9" width="124.5" height="12.3" fill="#e9e9e9"/>
<rect x="46" y="457.9" width="41" height="12.3" fill="#f7f700"/>
<rect x="139.5" y="457.9" width="31.0" height="12.3" fill="#f7f700"/>
<path d="M46,457.9 L40.15,457.9 A6.15,6.15 0 0 0 40.15,470.2 L46,470.2 Z" fill="#fff"/>
<path d="M46,458.4 L40.15,458.4 A5.65,5.65 0 0 0 40.15,469.7 L46,469.7" fill="none" stroke="#555" stroke-width="1"/>
<path d="M40.50,461.05 L41.64,462.08 L43.10,462.55 L42.78,464.05 L43.10,465.55 L41.64,466.02 L40.50,467.05 L39.36,466.02 L37.90,465.55 L38.22,464.05 L37.90,462.55 L39.36,462.08Z" fill="#111" stroke="#111" stroke-width="1" stroke-linejoin="round"/>
<circle cx="40.5" cy="464.04999999999995" r="1.20" fill="#fff"/>
<text x="55" y="467.84999999999997" font-size="10" font-weight="bold" fill="#333" text-anchor="start" >Netzwerk</text>
<text x="154.2" y="468.04999999999995" font-size="10.5" font-weight="bold" fill="#333" text-anchor="middle" >M</text>
<path d="M170.5,461.04999999999995 L173.0,461.04999999999995 A3,3 0 0 1 173.0,467.04999999999995 L170.5,467.04999999999995 Z" fill="#5dbb4e" stroke="#5dbb4e" stroke-width="0.8"/>
<path d="M46,421.5 H170.0 V469.7 H46" fill="none" stroke="#555" stroke-width="1"/>
<line x1="46" y1="433.3" x2="170.5" y2="433.3" stroke="#555" stroke-width="1"/>
<line x1="46" y1="445.6" x2="170.5" y2="445.6" stroke="#555" stroke-width="1"/>
<line x1="46" y1="457.9" x2="170.5" y2="457.9" stroke="#555" stroke-width="1"/>
<line x1="139.5" y1="421" x2="139.5" y2="470.2" stroke="#555" stroke-width="1"/>
<rect x="391.5" y="248.0" width="124.5" height="12.4" fill="#e9e9e9"/>
<rect x="391.5" y="248.0" width="41" height="12.4" fill="#f7f700"/>
<rect x="485.0" y="248.0" width="31.0" height="12.4" fill="#f7f700"/>
<path d="M391.5,248.0 L385.7,248.0 A6.2,6.2 0 0 0 385.7,260.4 L391.5,260.4 Z" fill="#fff"/>
<path d="M391.5,248.5 L385.7,248.5 A5.7,5.7 0 0 0 385.7,259.9 L391.5,259.9" fill="none" stroke="#555" stroke-width="1"/>
<path d="M386.00,251.20 L387.14,252.23 L388.60,252.70 L388.28,254.20 L388.60,255.70 L387.14,256.17 L386.00,257.20 L384.86,256.17 L383.40,255.70 L383.72,254.20 L383.40,252.70 L384.86,252.23Z" fill="#111" stroke="#111" stroke-width="1" stroke-linejoin="round"/>
<circle cx="386.0" cy="254.2" r="1.20" fill="#fff"/>
<text x="400.5" y="258.0" font-size="10" font-weight="bold" fill="#333" text-anchor="start" >Klima</text>
<text x="499.7" y="258.2" font-size="10.5" font-weight="bold" fill="#333" text-anchor="middle" >M</text>
<path d="M516.0,251.2 L518.5,251.2 A3,3 0 0 1 518.5,257.2 L516.0,257.2 Z" fill="#5dbb4e" stroke="#5dbb4e" stroke-width="0.8"/>
<rect x="391.5" y="260.4" width="124.5" height="12.4" fill="#e9e9e9"/>
<rect x="391.5" y="260.4" width="41" height="12.4" fill="#f7f700"/>
<rect x="485.0" y="260.4" width="31.0" height="12.4" fill="#fff"/>
<path d="M391.5,260.4 L385.7,260.4 A6.2,6.2 0 0 0 385.7,272.79999999999995 L391.5,272.79999999999995 Z" fill="#fff"/>
<path d="M391.5,260.9 L385.7,260.9 A5.7,5.7 0 0 0 385.7,272.29999999999995 L391.5,272.29999999999995" fill="none" stroke="#555" stroke-width="1"/>
<path d="M386.00,263.60 L387.14,264.63 L388.60,265.10 L388.28,266.60 L388.60,268.10 L387.14,268.57 L386.00,269.60 L384.86,268.57 L383.40,268.10 L383.72,266.60 L383.40,265.10 L384.86,264.63Z" fill="#111" stroke="#111" stroke-width="1" stroke-linejoin="round"/>
<circle cx="386.0" cy="266.59999999999997" r="1.20" fill="#fff"/>
<text x="399.5" y="269.59999999999997" font-size="8" font-weight="normal" fill="#444" text-anchor="start" >AEG Staubsauger</text>
<text x="499.7" y="270.59999999999997" font-size="10.5" font-weight="bold" fill="#333" text-anchor="middle" >M</text>
<path d="M516.0,263.59999999999997 L518.5,263.59999999999997 A3,3 0 0 1 518.5,269.59999999999997 L516.0,269.59999999999997 Z" fill="#5dbb4e" stroke="#5dbb4e" stroke-width="0.8"/>
<rect x="391.5" y="272.8" width="124.5" height="12.4" fill="#e9e9e9"/>
<rect x="391.5" y="272.8" width="41" height="12.4" fill="#f7f700"/>
<rect x="485.0" y="272.8" width="31.0" height="12.4" fill="#fff"/>
<path d="M391.5,272.8 L385.7,272.8 A6.2,6.2 0 0 0 385.7,285.2 L391.5,285.2 Z" fill="#fff"/>
<path d="M391.5,273.3 L385.7,273.3 A5.7,5.7 0 0 0 385.7,284.7 L391.5,284.7" fill="none" stroke="#555" stroke-width="1"/>
<path d="M386.00,276.00 L387.14,277.03 L388.60,277.50 L388.28,279.00 L388.60,280.50 L387.14,280.97 L386.00,282.00 L384.86,280.97 L383.40,280.50 L383.72,279.00 L383.40,277.50 L384.86,277.03Z" fill="#111" stroke="#111" stroke-width="1" stroke-linejoin="round"/>
<circle cx="386.0" cy="279.0" r="1.20" fill="#fff"/>
<text x="399.5" y="282.0" font-size="8" font-weight="normal" fill="#444" text-anchor="start" >Carport Steckdo...</text>
<text x="499.7" y="283.0" font-size="10.5" font-weight="bold" fill="#333" text-anchor="middle" >M</text>
<path d="M516.0,276.0 L518.5,276.0 A3,3 0 0 1 518.5,282.0 L516.0,282.0 Z" fill="#5dbb4e" stroke="#5dbb4e" stroke-width="0.8"/>
<path d="M391.5,248.5 H515.5 V284.7 H391.5" fill="none" stroke="#555" stroke-width="1"/>
<line x1="391.5" y1="260.4" x2="516.0" y2="260.4" stroke="#555" stroke-width="1"/>
<line x1="391.5" y1="272.8" x2="516.0" y2="272.8" stroke="#555" stroke-width="1"/>
<line x1="485.0" y1="248" x2="485.0" y2="285.2" stroke="#555" stroke-width="1"/>
<rect x="650" y="107.0" width="123.5" height="12.25" fill="#e9e9e9"/>
<rect x="650" y="107.0" width="41" height="12.25" fill="#f7f700"/>
<rect x="743.5" y="107.0" width="30.0" height="12.25" fill="#f7f700"/>
<path d="M650,107.0 L644.125,107.0 A6.125,6.125 0 0 0 644.125,119.25 L650,119.25 Z" fill="#fff"/>
<path d="M650,107.5 L644.125,107.5 A5.625,5.625 0 0 0 644.125,118.75 L650,118.75" fill="none" stroke="#555" stroke-width="1"/>
<path d="M644.50,110.12 L645.64,111.15 L647.10,111.62 L646.78,113.12 L647.10,114.62 L645.64,115.10 L644.50,116.12 L643.36,115.10 L641.90,114.62 L642.22,113.12 L641.90,111.62 L643.36,111.15Z" fill="#111" stroke="#111" stroke-width="1" stroke-linejoin="round"/>
<circle cx="644.5" cy="113.125" r="1.20" fill="#fff"/>
<text x="658" y="116.125" font-size="8" font-weight="normal" fill="#444" text-anchor="start" >Consumption</text>
<text x="758.2" y="117.125" font-size="10.5" font-weight="bold" fill="#333" text-anchor="middle" >M</text>
<path d="M773.5,110.125 L776.0,110.125 A3,3 0 0 1 776.0,116.125 L773.5,116.125 Z" fill="#5dbb4e" stroke="#5dbb4e" stroke-width="0.8"/>
<path d="M650,107.5 H773.0 V118.75 H650" fill="none" stroke="#555" stroke-width="1"/>
<line x1="743.5" y1="107" x2="743.5" y2="119.25" stroke="#555" stroke-width="1"/>
<rect x="238.5" y="180.3" width="86" height="61.69999999999999" fill="#fff" stroke="#abd19c" stroke-width="1"/>
<rect x="238" y="162" width="87" height="18.3" fill="#5dc84a"/>
<text x="243" y="174.1" font-size="10.5" font-weight="bold" fill="#fff" text-anchor="start" >Addier...</text>
<circle cx="315" cy="171.5" r="5.8" fill="#fff"/>
<circle cx="300.8" cy="171.5" r="5.8" fill="#fff"/>
<rect x="314.1" y="168.6" width="1.8" height="1.5" fill="#222"/>
<rect x="314.1" y="170.7" width="1.8" height="3.6" fill="#222"/>
<path d="M300.80,168.25 L302.04,169.36 L303.61,169.88 L303.27,171.50 L303.61,173.12 L302.04,173.64 L300.80,174.75 L299.56,173.64 L297.99,173.12 L298.33,171.50 L297.99,169.88 L299.56,169.36Z" fill="#111" stroke="#111" stroke-width="1" stroke-linejoin="round"/>
<circle cx="300.8" cy="171.5" r="1.30" fill="#fff"/>
<path d="M232.5,183.0 L239,183.0 L239,190.0 L232.5,190.0 L234.5,186.5 Z" fill="#1ba6d3"/>
<text x="245" y="190.1" font-size="10.5" font-weight="normal" fill="#333" text-anchor="start" >V1</text>
<path d="M232.5,195.3 L239,195.3 L239,202.3 L232.5,202.3 L234.5,198.8 Z" fill="#1ba6d3"/>
<text x="245" y="202.4" font-size="10.5" font-weight="normal" fill="#333" text-anchor="start" >V2</text>
<path d="M232.5,207.6 L239,207.6 L239,214.6 L232.5,214.6 L234.5,211.1 Z" fill="#1ba6d3"/>
<text x="245" y="214.7" font-size="10.5" font-weight="normal" fill="#333" text-anchor="start" >V3</text>
<path d="M232.5,219.9 L239,219.9 L239,226.9 L232.5,226.9 L234.5,223.4 Z" fill="#1ba6d3"/>
<text x="245" y="227.0" font-size="10.5" font-weight="normal" fill="#333" text-anchor="start" >V4</text>
<path d="M232.5,232.2 L239,232.2 L239,239.2 L232.5,239.2 L234.5,235.7 Z" fill="#d4d4d4"/>
<circle cx="248.5" cy="235.7" r="4.3" fill="#9c9c9c"/>
<rect x="245.7" y="235.2" width="5.6" height="1" fill="#d8d8d8"/>
<rect x="247.9" y="232.5" width="1.2" height="6.4" fill="#fff"/>
<text x="316.5" y="190.1" font-size="10.5" font-weight="normal" fill="#333" text-anchor="end" >O</text>
<path d="M325,183.5 L327.5,183.5 A3,3 0 0 1 327.5,189.5 L325,189.5 Z" fill="#5dbb4e" stroke="#5dbb4e" stroke-width="0.8"/>
<rect x="238.5" y="260.6" width="86" height="61.69999999999999" fill="#fff" stroke="#abd19c" stroke-width="1"/>
<rect x="238" y="242.3" width="87" height="18.3" fill="#5dc84a"/>
<text x="243" y="254.4" font-size="10.5" font-weight="bold" fill="#fff" text-anchor="start" >Addier...</text>
<circle cx="315" cy="251.8" r="5.8" fill="#fff"/>
<circle cx="300.8" cy="251.8" r="5.8" fill="#fff"/>
<rect x="314.1" y="248.9" width="1.8" height="1.5" fill="#222"/>
<rect x="314.1" y="251.0" width="1.8" height="3.6" fill="#222"/>
<path d="M300.80,248.55 L302.04,249.66 L303.61,250.18 L303.27,251.80 L303.61,253.43 L302.04,253.94 L300.80,255.05 L299.56,253.94 L297.99,253.43 L298.33,251.80 L297.99,250.18 L299.56,249.66Z" fill="#111" stroke="#111" stroke-width="1" stroke-linejoin="round"/>
<circle cx="300.8" cy="251.8" r="1.30" fill="#fff"/>
<path d="M232.5,263.3 L239,263.3 L239,270.3 L232.5,270.3 L234.5,266.8 Z" fill="#1ba6d3"/>
<text x="245" y="270.40000000000003" font-size="10.5" font-weight="normal" fill="#333" text-anchor="start" >V1</text>
<path d="M232.5,275.7 L239,275.7 L239,282.7 L232.5,282.7 L234.5,279.2 Z" fill="#1ba6d3"/>
<text x="245" y="282.8" font-size="10.5" font-weight="normal" fill="#333" text-anchor="start" >V2</text>
<path d="M232.5,288.1 L239,288.1 L239,295.1 L232.5,295.1 L234.5,291.6 Z" fill="#1ba6d3"/>
<text x="245" y="295.20000000000005" font-size="10.5" font-weight="normal" fill="#333" text-anchor="start" >V3</text>
<path d="M232.5,300.5 L239,300.5 L239,307.5 L232.5,307.5 L234.5,304.0 Z" fill="#1ba6d3"/>
<text x="245" y="307.6" font-size="10.5" font-weight="normal" fill="#333" text-anchor="start" >V4</text>
<path d="M232.5,312.90000000000003 L239,312.90000000000003 L239,319.90000000000003 L232.5,319.90000000000003 L234.5,316.40000000000003 Z" fill="#d4d4d4"/>
<circle cx="248.5" cy="316.40000000000003" r="4.3" fill="#9c9c9c"/>
<rect x="245.7" y="315.90000000000003" width="5.6" height="1" fill="#d8d8d8"/>
<rect x="247.9" y="313.20000000000005" width="1.2" height="6.4" fill="#fff"/>
<text x="316.5" y="270.40000000000003" font-size="10.5" font-weight="normal" fill="#333" text-anchor="end" >O</text>
<path d="M325,263.8 L327.5,263.8 A3,3 0 0 1 327.5,269.8 L325,269.8 Z" fill="#5dbb4e" stroke="#5dbb4e" stroke-width="0.8"/>
<rect x="238.5" y="341.0" width="86" height="61.69999999999999" fill="#fff" stroke="#abd19c" stroke-width="1"/>
<rect x="238" y="322.7" width="87" height="18.3" fill="#5dc84a"/>
<text x="243" y="334.8" font-size="10.5" font-weight="bold" fill="#fff" text-anchor="start" >Addier...</text>
<circle cx="315" cy="332.2" r="5.8" fill="#fff"/>
<circle cx="300.8" cy="332.2" r="5.8" fill="#fff"/>
<rect x="314.1" y="329.3" width="1.8" height="1.5" fill="#222"/>
<rect x="314.1" y="331.4" width="1.8" height="3.6" fill="#222"/>
<path d="M300.80,328.95 L302.04,330.06 L303.61,330.57 L303.27,332.20 L303.61,333.82 L302.04,334.34 L300.80,335.45 L299.56,334.34 L297.99,333.82 L298.33,332.20 L297.99,330.57 L299.56,330.06Z" fill="#111" stroke="#111" stroke-width="1" stroke-linejoin="round"/>
<circle cx="300.8" cy="332.2" r="1.30" fill="#fff"/>
<path d="M232.5,343.7 L239,343.7 L239,350.7 L232.5,350.7 L234.5,347.2 Z" fill="#1ba6d3"/>
<text x="245" y="350.8" font-size="10.5" font-weight="normal" fill="#333" text-anchor="start" >V1</text>
<path d="M232.5,356.09999999999997 L239,356.09999999999997 L239,363.09999999999997 L232.5,363.09999999999997 L234.5,359.59999999999997 Z" fill="#1ba6d3"/>
<text x="245" y="363.2" font-size="10.5" font-weight="normal" fill="#333" text-anchor="start" >V2</text>
<path d="M232.5,368.5 L239,368.5 L239,375.5 L232.5,375.5 L234.5,372.0 Z" fill="#1ba6d3"/>
<text x="245" y="375.6" font-size="10.5" font-weight="normal" fill="#333" text-anchor="start" >V3</text>
<path d="M232.5,380.9 L239,380.9 L239,387.9 L232.5,387.9 L234.5,384.4 Z" fill="#1ba6d3"/>
<text x="245" y="388.0" font-size="10.5" font-weight="normal" fill="#333" text-anchor="start" >V4</text>
<path d="M232.5,393.3 L239,393.3 L239,400.3 L232.5,400.3 L234.5,396.8 Z" fill="#d4d4d4"/>
<circle cx="248.5" cy="396.8" r="4.3" fill="#9c9c9c"/>
<rect x="245.7" y="396.3" width="5.6" height="1" fill="#d8d8d8"/>
<rect x="247.9" y="393.6" width="1.2" height="6.4" fill="#fff"/>
<text x="316.5" y="350.8" font-size="10.5" font-weight="normal" fill="#333" text-anchor="end" >O</text>
<path d="M325,344.2 L327.5,344.2 A3,3 0 0 1 327.5,350.2 L325,350.2 Z" fill="#5dbb4e" stroke="#5dbb4e" stroke-width="0.8"/>
<rect x="238.5" y="421.3" width="86" height="61.69999999999999" fill="#fff" stroke="#abd19c" stroke-width="1"/>
<rect x="238" y="403" width="87" height="18.3" fill="#5dc84a"/>
<text x="243" y="415.1" font-size="10.5" font-weight="bold" fill="#fff" text-anchor="start" >Addier...</text>
<circle cx="315" cy="412.5" r="5.8" fill="#fff"/>
<circle cx="300.8" cy="412.5" r="5.8" fill="#fff"/>
<rect x="314.1" y="409.6" width="1.8" height="1.5" fill="#222"/>
<rect x="314.1" y="411.7" width="1.8" height="3.6" fill="#222"/>
<path d="M300.80,409.25 L302.04,410.36 L303.61,410.88 L303.27,412.50 L303.61,414.12 L302.04,414.64 L300.80,415.75 L299.56,414.64 L297.99,414.12 L298.33,412.50 L297.99,410.88 L299.56,410.36Z" fill="#111" stroke="#111" stroke-width="1" stroke-linejoin="round"/>
<circle cx="300.8" cy="412.5" r="1.30" fill="#fff"/>
<path d="M232.5,424.0 L239,424.0 L239,431.0 L232.5,431.0 L234.5,427.5 Z" fill="#1ba6d3"/>
<text x="245" y="431.1" font-size="10.5" font-weight="normal" fill="#333" text-anchor="start" >V1</text>
<path d="M232.5,436.3 L239,436.3 L239,443.3 L232.5,443.3 L234.5,439.8 Z" fill="#1ba6d3"/>
<text x="245" y="443.40000000000003" font-size="10.5" font-weight="normal" fill="#333" text-anchor="start" >V2</text>
<path d="M232.5,448.6 L239,448.6 L239,455.6 L232.5,455.6 L234.5,452.1 Z" fill="#1ba6d3"/>
<text x="245" y="455.70000000000005" font-size="10.5" font-weight="normal" fill="#333" text-anchor="start" >V3</text>
<path d="M232.5,460.9 L239,460.9 L239,467.9 L232.5,467.9 L234.5,464.4 Z" fill="#1ba6d3"/>
<text x="245" y="468.0" font-size="10.5" font-weight="normal" fill="#333" text-anchor="start" >V4</text>
<path d="M232.5,473.2 L239,473.2 L239,480.2 L232.5,480.2 L234.5,476.7 Z" fill="#d4d4d4"/>
<circle cx="248.5" cy="476.7" r="4.3" fill="#9c9c9c"/>
<rect x="245.7" y="476.2" width="5.6" height="1" fill="#d8d8d8"/>
<rect x="247.9" y="473.5" width="1.2" height="6.4" fill="#fff"/>
<text x="316.5" y="431.1" font-size="10.5" font-weight="normal" fill="#333" text-anchor="end" >O</text>
<path d="M325,424.5 L327.5,424.5 A3,3 0 0 1 327.5,430.5 L325,430.5 Z" fill="#5dbb4e" stroke="#5dbb4e" stroke-width="0.8"/>
<rect x="392.5" y="180.3" width="86" height="61.19999999999999" fill="#fff" stroke="#abd19c" stroke-width="1"/>
<rect x="392" y="162" width="87" height="18.3" fill="#5dc84a"/>
<text x="397" y="174.1" font-size="10.5" font-weight="bold" fill="#fff" text-anchor="start" >Addier...</text>
<circle cx="469" cy="171.5" r="5.8" fill="#fff"/>
<circle cx="454.8" cy="171.5" r="5.8" fill="#fff"/>
<rect x="468.1" y="168.6" width="1.8" height="1.5" fill="#222"/>
<rect x="468.1" y="170.7" width="1.8" height="3.6" fill="#222"/>
<path d="M454.80,168.25 L456.04,169.36 L457.61,169.88 L457.27,171.50 L457.61,173.12 L456.04,173.64 L454.80,174.75 L453.56,173.64 L451.99,173.12 L452.33,171.50 L451.99,169.88 L453.56,169.36Z" fill="#111" stroke="#111" stroke-width="1" stroke-linejoin="round"/>
<circle cx="454.8" cy="171.5" r="1.30" fill="#fff"/>
<path d="M386.5,183.0 L393,183.0 L393,190.0 L386.5,190.0 L388.5,186.5 Z" fill="#1ba6d3"/>
<text x="399" y="190.1" font-size="10.5" font-weight="normal" fill="#333" text-anchor="start" >V1</text>
<path d="M386.5,195.25 L393,195.25 L393,202.25 L386.5,202.25 L388.5,198.75 Z" fill="#1ba6d3"/>
<text x="399" y="202.35" font-size="10.5" font-weight="normal" fill="#333" text-anchor="start" >V2</text>
<path d="M386.5,207.5 L393,207.5 L393,214.5 L386.5,214.5 L388.5,211.0 Z" fill="#1ba6d3"/>
<text x="399" y="214.6" font-size="10.5" font-weight="normal" fill="#333" text-anchor="start" >V3</text>
<path d="M386.5,219.75 L393,219.75 L393,226.75 L386.5,226.75 L388.5,223.25 Z" fill="#1ba6d3"/>
<text x="399" y="226.85" font-size="10.5" font-weight="normal" fill="#333" text-anchor="start" >V4</text>
<path d="M386.5,232.0 L393,232.0 L393,239.0 L386.5,239.0 L388.5,235.5 Z" fill="#d4d4d4"/>
<circle cx="402.5" cy="235.5" r="4.3" fill="#9c9c9c"/>
<rect x="399.7" y="235.0" width="5.6" height="1" fill="#d8d8d8"/>
<rect x="401.9" y="232.3" width="1.2" height="6.4" fill="#fff"/>
<text x="470.5" y="190.1" font-size="10.5" font-weight="normal" fill="#333" text-anchor="end" >O</text>
<path d="M479,183.5 L481.5,183.5 A3,3 0 0 1 481.5,189.5 L479,189.5 Z" fill="#5dbb4e" stroke="#5dbb4e" stroke-width="0.8"/>
<rect x="552.5" y="248.3" width="86" height="49.19999999999999" fill="#fff" stroke="#abd19c" stroke-width="1"/>
<rect x="552" y="230" width="87" height="18.3" fill="#5dc84a"/>
<text x="557" y="242.1" font-size="10.5" font-weight="bold" fill="#fff" text-anchor="start" >Addier...</text>
<circle cx="629" cy="239.5" r="5.8" fill="#fff"/>
<circle cx="614.8" cy="239.5" r="5.8" fill="#fff"/>
<rect x="628.1" y="236.6" width="1.8" height="1.5" fill="#222"/>
<rect x="628.1" y="238.7" width="1.8" height="3.6" fill="#222"/>
<path d="M614.80,236.25 L616.03,237.36 L617.61,237.88 L617.27,239.50 L617.61,241.12 L616.03,241.64 L614.80,242.75 L613.56,241.64 L611.99,241.12 L612.33,239.50 L611.99,237.88 L613.56,237.36Z" fill="#111" stroke="#111" stroke-width="1" stroke-linejoin="round"/>
<circle cx="614.8" cy="239.5" r="1.30" fill="#fff"/>
<path d="M546.5,250.7 L553,250.7 L553,257.7 L546.5,257.7 L548.5,254.2 Z" fill="#1ba6d3"/>
<text x="559" y="257.8" font-size="10.5" font-weight="normal" fill="#333" text-anchor="start" >V1</text>
<path d="M546.5,263.09999999999997 L553,263.09999999999997 L553,270.09999999999997 L546.5,270.09999999999997 L548.5,266.59999999999997 Z" fill="#1ba6d3"/>
<text x="559" y="270.2" font-size="10.5" font-weight="normal" fill="#333" text-anchor="start" >V2</text>
<path d="M546.5,275.5 L553,275.5 L553,282.5 L546.5,282.5 L548.5,279.0 Z" fill="#1ba6d3"/>
<text x="559" y="282.6" font-size="10.5" font-weight="normal" fill="#333" text-anchor="start" >V3</text>
<path d="M546.5,287.9 L553,287.9 L553,294.9 L546.5,294.9 L548.5,291.4 Z" fill="#d4d4d4"/>
<circle cx="562.5" cy="291.4" r="4.3" fill="#9c9c9c"/>
<rect x="559.7" y="290.9" width="5.6" height="1" fill="#d8d8d8"/>
<rect x="561.9" y="288.2" width="1.2" height="6.4" fill="#fff"/>
<text x="630.5" y="257.8" font-size="10.5" font-weight="normal" fill="#333" text-anchor="end" >O</text>
<path d="M639,251.2 L641.5,251.2 A3,3 0 0 1 641.5,257.2 L639,257.2 Z" fill="#5dbb4e" stroke="#5dbb4e" stroke-width="0.8"/>
<rect x="552.5" y="334.8" width="86" height="49.19999999999999" fill="#fff" stroke="#abd19c" stroke-width="1"/>
<rect x="552" y="316.5" width="87" height="18.3" fill="#5dc84a"/>
<text x="557" y="328.6" font-size="10.5" font-weight="bold" fill="#fff" text-anchor="start" >Addier...</text>
<circle cx="629" cy="326.0" r="5.8" fill="#fff"/>
<circle cx="614.8" cy="326.0" r="5.8" fill="#fff"/>
<rect x="628.1" y="323.1" width="1.8" height="1.5" fill="#222"/>
<rect x="628.1" y="325.2" width="1.8" height="3.6" fill="#222"/>
<path d="M614.80,322.75 L616.03,323.86 L617.61,324.38 L617.27,326.00 L617.61,327.62 L616.03,328.14 L614.80,329.25 L613.56,328.14 L611.99,327.62 L612.33,326.00 L611.99,324.38 L613.56,323.86Z" fill="#111" stroke="#111" stroke-width="1" stroke-linejoin="round"/>
<circle cx="614.8" cy="326.0" r="1.30" fill="#fff"/>
<path d="M546.5,337.5 L553,337.5 L553,344.5 L546.5,344.5 L548.5,341.0 Z" fill="#1ba6d3"/>
<text x="559" y="344.6" font-size="10.5" font-weight="normal" fill="#333" text-anchor="start" >V1</text>
<path d="M546.5,349.75 L553,349.75 L553,356.75 L546.5,356.75 L548.5,353.25 Z" fill="#1ba6d3"/>
<text x="559" y="356.85" font-size="10.5" font-weight="normal" fill="#333" text-anchor="start" >V2</text>
<path d="M546.5,362.0 L553,362.0 L553,369.0 L546.5,369.0 L548.5,365.5 Z" fill="#1ba6d3"/>
<text x="559" y="369.1" font-size="10.5" font-weight="normal" fill="#333" text-anchor="start" >V3</text>
<path d="M546.5,374.25 L553,374.25 L553,381.25 L546.5,381.25 L548.5,377.75 Z" fill="#d4d4d4"/>
<circle cx="562.5" cy="377.75" r="4.3" fill="#9c9c9c"/>
<rect x="559.7" y="377.25" width="5.6" height="1" fill="#d8d8d8"/>
<rect x="561.9" y="374.55" width="1.2" height="6.4" fill="#fff"/>
<text x="630.5" y="344.6" font-size="10.5" font-weight="normal" fill="#333" text-anchor="end" >O</text>
<path d="M639,338.0 L641.5,338.0 A3,3 0 0 1 641.5,344.0 L639,344.0 Z" fill="#5dbb4e" stroke="#5dbb4e" stroke-width="0.8"/>
<rect x="552.5" y="420.6" width="86" height="49.39999999999998" fill="#fff" stroke="#abd19c" stroke-width="1"/>
<rect x="552" y="402.3" width="87" height="18.3" fill="#5dc84a"/>
<text x="557" y="414.40000000000003" font-size="10.5" font-weight="bold" fill="#fff" text-anchor="start" >Addier...</text>
<circle cx="629" cy="411.8" r="5.8" fill="#fff"/>
<circle cx="614.8" cy="411.8" r="5.8" fill="#fff"/>
<rect x="628.1" y="408.90000000000003" width="1.8" height="1.5" fill="#222"/>
<rect x="628.1" y="411.0" width="1.8" height="3.6" fill="#222"/>
<path d="M614.80,408.55 L616.03,409.66 L617.61,410.18 L617.27,411.80 L617.61,413.43 L616.03,413.94 L614.80,415.05 L613.56,413.94 L611.99,413.43 L612.33,411.80 L611.99,410.18 L613.56,409.66Z" fill="#111" stroke="#111" stroke-width="1" stroke-linejoin="round"/>
<circle cx="614.8" cy="411.8" r="1.30" fill="#fff"/>
<path d="M546.5,423.3 L553,423.3 L553,430.3 L546.5,430.3 L548.5,426.8 Z" fill="#1ba6d3"/>
<text x="559" y="430.40000000000003" font-size="10.5" font-weight="normal" fill="#333" text-anchor="start" >V1</text>
<path d="M546.5,435.55 L553,435.55 L553,442.55 L546.5,442.55 L548.5,439.05 Z" fill="#1ba6d3"/>
<text x="559" y="442.65000000000003" font-size="10.5" font-weight="normal" fill="#333" text-anchor="start" >V2</text>
<path d="M546.5,447.8 L553,447.8 L553,454.8 L546.5,454.8 L548.5,451.3 Z" fill="#1ba6d3"/>
<text x="559" y="454.90000000000003" font-size="10.5" font-weight="normal" fill="#333" text-anchor="start" >V3</text>
<path d="M546.5,460.05 L553,460.05 L553,467.05 L546.5,467.05 L548.5,463.55 Z" fill="#d4d4d4"/>
<circle cx="562.5" cy="463.55" r="4.3" fill="#9c9c9c"/>
<rect x="559.7" y="463.05" width="5.6" height="1" fill="#d8d8d8"/>
<rect x="561.9" y="460.35" width="1.2" height="6.4" fill="#fff"/>
<text x="630.5" y="430.40000000000003" font-size="10.5" font-weight="normal" fill="#333" text-anchor="end" >O</text>
<path d="M639,423.8 L641.5,423.8 A3,3 0 0 1 641.5,429.8 L639,429.8 Z" fill="#5dbb4e" stroke="#5dbb4e" stroke-width="0.8"/>
<rect x="681.5" y="180.3" width="86" height="61.19999999999999" fill="#fff" stroke="#abd19c" stroke-width="1"/>
<rect x="681" y="162" width="87" height="18.3" fill="#5dc84a"/>
<text x="686" y="174.1" font-size="10.5" font-weight="bold" fill="#fff" text-anchor="start" >Addier...</text>
<circle cx="758" cy="171.5" r="5.8" fill="#fff"/>
<circle cx="743.8" cy="171.5" r="5.8" fill="#fff"/>
<rect x="757.1" y="168.6" width="1.8" height="1.5" fill="#222"/>
<rect x="757.1" y="170.7" width="1.8" height="3.6" fill="#222"/>
<path d="M743.80,168.25 L745.03,169.36 L746.61,169.88 L746.27,171.50 L746.61,173.12 L745.03,173.64 L743.80,174.75 L742.56,173.64 L740.99,173.12 L741.33,171.50 L740.99,169.88 L742.56,169.36Z" fill="#111" stroke="#111" stroke-width="1" stroke-linejoin="round"/>
<circle cx="743.8" cy="171.5" r="1.30" fill="#fff"/>
<path d="M675.5,183.0 L682,183.0 L682,190.0 L675.5,190.0 L677.5,186.5 Z" fill="#1ba6d3"/>
<text x="688" y="190.1" font-size="10.5" font-weight="normal" fill="#333" text-anchor="start" >V1</text>
<path d="M675.5,195.25 L682,195.25 L682,202.25 L675.5,202.25 L677.5,198.75 Z" fill="#1ba6d3"/>
<text x="688" y="202.35" font-size="10.5" font-weight="normal" fill="#333" text-anchor="start" >V2</text>
<path d="M675.5,207.5 L682,207.5 L682,214.5 L675.5,214.5 L677.5,211.0 Z" fill="#1ba6d3"/>
<text x="688" y="214.6" font-size="10.5" font-weight="normal" fill="#333" text-anchor="start" >V3</text>
<path d="M675.5,219.75 L682,219.75 L682,226.75 L675.5,226.75 L677.5,223.25 Z" fill="#1ba6d3"/>
<text x="688" y="226.85" font-size="10.5" font-weight="normal" fill="#333" text-anchor="start" >V4</text>
<path d="M675.5,232.0 L682,232.0 L682,239.0 L675.5,239.0 L677.5,235.5 Z" fill="#d4d4d4"/>
<circle cx="691.5" cy="235.5" r="4.3" fill="#9c9c9c"/>
<rect x="688.7" y="235.0" width="5.6" height="1" fill="#d8d8d8"/>
<rect x="690.9" y="232.3" width="1.2" height="6.4" fill="#fff"/>
<text x="759.5" y="190.1" font-size="10.5" font-weight="normal" fill="#333" text-anchor="end" >O</text>
<path d="M768,183.5 L770.5,183.5 A3,3 0 0 1 770.5,189.5 L768,189.5 Z" fill="#5dbb4e" stroke="#5dbb4e" stroke-width="0.8"/>
<rect x="811.5" y="186.60000000000002" width="86" height="24.399999999999977" fill="#fff" stroke="#abd19c" stroke-width="1"/>
<rect x="811" y="168.3" width="87" height="18.3" fill="#5dc84a"/>
<text x="816" y="180.4" font-size="10.5" font-weight="bold" fill="#fff" text-anchor="start" >Subtra...</text>
<circle cx="888" cy="177.8" r="5.8" fill="#fff"/>
<circle cx="873.8" cy="177.8" r="5.8" fill="#fff"/>
<rect x="887.1" y="174.9" width="1.8" height="1.5" fill="#222"/>
<rect x="887.1" y="177.0" width="1.8" height="3.6" fill="#222"/>
<path d="M873.80,174.55 L875.03,175.66 L876.61,176.18 L876.27,177.80 L876.61,179.43 L875.03,179.94 L873.80,181.05 L872.56,179.94 L870.99,179.43 L871.33,177.80 L870.99,176.18 L872.56,175.66Z" fill="#111" stroke="#111" stroke-width="1" stroke-linejoin="round"/>
<circle cx="873.8" cy="177.8" r="1.30" fill="#fff"/>
<path d="M805.5,189.3 L812,189.3 L812,196.3 L805.5,196.3 L807.5,192.8 Z" fill="#1ba6d3"/>
<text x="818" y="196.4" font-size="10.5" font-weight="normal" fill="#333" text-anchor="start" >V1</text>
<path d="M805.5,201.55 L812,201.55 L812,208.55 L805.5,208.55 L807.5,205.05 Z" fill="#1ba6d3"/>
<text x="818" y="208.65" font-size="10.5" font-weight="normal" fill="#333" text-anchor="start" >V2</text>
<text x="889.5" y="196.4" font-size="10.5" font-weight="normal" fill="#333" text-anchor="end" >O</text>
<path d="M898,189.8 L900.5,189.8 A3,3 0 0 1 900.5,195.8 L898,195.8 Z" fill="#5dbb4e" stroke="#5dbb4e" stroke-width="0.8"/>
<rect x="928.5" y="186.60000000000002" width="86" height="24.19999999999999" fill="#fff" stroke="#abd19c" stroke-width="1"/>
<rect x="928" y="168.3" width="87" height="18.3" fill="#5dc84a"/>
<text x="933" y="180.4" font-size="10.5" font-weight="bold" fill="#fff" text-anchor="start" >Analog...</text>
<circle cx="1005" cy="177.8" r="5.8" fill="#fff"/>
<circle cx="990.8" cy="177.8" r="5.8" fill="#fff"/>
<rect x="1004.1" y="174.9" width="1.8" height="1.5" fill="#222"/>
<rect x="1004.1" y="177.0" width="1.8" height="3.6" fill="#222"/>
<path d="M990.80,174.55 L992.03,175.66 L993.61,176.18 L993.27,177.80 L993.61,179.43 L992.03,179.94 L990.80,181.05 L989.56,179.94 L987.99,179.43 L988.33,177.80 L987.99,176.18 L989.56,175.66Z" fill="#111" stroke="#111" stroke-width="1" stroke-linejoin="round"/>
<circle cx="990.8" cy="177.8" r="1.30" fill="#fff"/>
<path d="M922.5,189.3 L929,189.3 L929,196.3 L922.5,196.3 L924.5,192.8 Z" fill="#f5a742"/>
<text x="935" y="196.4" font-size="10.5" font-weight="normal" fill="#333" text-anchor="start" >V</text>
<path d="M922.5,201.55 L929,201.55 L929,208.55 L922.5,208.55 L924.5,205.05 Z" fill="#d4d4d4"/>
<circle cx="938.5" cy="205.05" r="4.3" fill="#9c9c9c"/>
<rect x="935.7" y="204.55" width="5.6" height="1" fill="#d8d8d8"/>
<rect x="937.9" y="201.85000000000002" width="1.2" height="6.4" fill="#fff"/>
<text x="1006.5" y="196.4" font-size="10.5" font-weight="normal" fill="#333" text-anchor="end" >V</text>
<path d="M1015,189.8 L1017.5,189.8 A3,3 0 0 1 1017.5,195.8 L1015,195.8 Z" fill="#5dbb4e" stroke="#5dbb4e" stroke-width="0.8"/>
<rect x="1052.0" y="156.5" width="172" height="66.5" fill="#fff" stroke="#4a72a8" stroke-width="1"/>
<rect x="1051.5" y="156.5" width="173" height="17.5" fill="#2e7be0"/>
<rect x="1052.5" y="174.0" width="171" height="12.5" fill="#e6e6e6"/>
<text x="1056.5" y="169.5" font-size="10.5" font-weight="bold" fill="#fff" text-anchor="start" >Sonstiges</text>
<circle cx="1214.5" cy="165.5" r="5.8" fill="#fff"/>
<circle cx="1200.3" cy="165.5" r="5.8" fill="#fff"/>
<circle cx="1186.1" cy="165.5" r="5.8" fill="#fff"/>
<rect x="1213.6" y="162.6" width="1.8" height="1.5" fill="#222"/>
<rect x="1213.6" y="164.7" width="1.8" height="3.6" fill="#222"/>
<path d="M1200.30,162.25 L1201.53,163.36 L1203.11,163.88 L1202.77,165.50 L1203.11,167.12 L1201.53,167.64 L1200.30,168.75 L1199.07,167.64 L1197.49,167.12 L1197.83,165.50 L1197.49,163.88 L1199.07,163.36Z" fill="#111" stroke="#111" stroke-width="1" stroke-linejoin="round"/>
<circle cx="1200.3" cy="165.5" r="1.30" fill="#fff"/>
<path d="M1182.6,165.5 H1189.6 M1186.1,162.0 V169.0" stroke="#b5e3a8" stroke-width="1"/>
<path d="M1190.1,165.5 L1188.3,167.0 L1188.3,164.0 Z" fill="#b5e3a8"/>
<path d="M1182.1,165.5 L1183.8999999999999,164.0 L1183.8999999999999,167.0 Z" fill="#b5e3a8"/>
<path d="M1186.1,169.5 L1184.6,167.7 L1187.6,167.7 Z" fill="#b5e3a8"/>
<path d="M1186.1,161.5 L1187.6,163.3 L1184.6,163.3 Z" fill="#b5e3a8"/>
<text x="1137.5" y="184.3" font-size="10.5" font-weight="normal" fill="#444" text-anchor="middle" >Zähler</text>
<text x="1138.0" y="197" font-size="10.5" font-weight="normal" fill="#7a7a7a" text-anchor="middle" >Zentral</text>
<text x="1138.0" y="209.5" font-size="10.5" font-weight="normal" fill="#7a7a7a" text-anchor="middle" >Energie</text>
<path d="M1046.0,189.5 L1052.5,189.5 L1052.5,196.5 L1046.0,196.5 L1048.0,193.0 Z" fill="#f5a742"/>
<text x="1059.5" y="197.0" font-size="10.5" font-weight="normal" fill="#333" text-anchor="start" >Pf</text>
<text x="1215.5" y="197.0" font-size="10.5" font-weight="normal" fill="#333" text-anchor="end" >Pf</text>
<path d="M1224.5,189.4 L1227.0,189.4 L1230.5,193.0 L1227.0,196.6 L1224.5,196.6 Z" fill="#5dbb4e"/>
<path d="M1046.0,201.75 L1052.5,201.75 L1052.5,208.75 L1046.0,208.75 L1048.0,205.25 Z" fill="#f5a742"/>
<text x="1059.5" y="209.25" font-size="10.5" font-weight="normal" fill="#333" text-anchor="start" >Mr</text>
<text x="1215.5" y="209.25" font-size="10.5" font-weight="normal" fill="#333" text-anchor="end" >Mr</text>
<path d="M1224.5,201.65 L1227.0,201.65 L1230.5,205.25 L1227.0,208.85 L1224.5,208.85 Z" fill="#5dbb4e"/>
<path d="M1046.0,214.0 L1052.5,214.0 L1052.5,221.0 L1046.0,221.0 L1048.0,217.5 Z" fill="#d4d4d4"/>
<circle cx="1061.5" cy="217.5" r="4.3" fill="#9c9c9c"/>
<rect x="1058.7" y="217.0" width="5.6" height="1" fill="#d8d8d8"/>
<rect x="1060.9" y="214.3" width="1.2" height="6.4" fill="#fff"/>
<circle cx="1213.5" cy="217.5" r="4.3" fill="#9c9c9c"/>
<rect x="1210.7" y="217.0" width="5.6" height="1" fill="#d8d8d8"/>
<rect x="1212.9" y="214.3" width="1.2" height="6.4" fill="#fff"/>
<path d="M1224.5,214.0 L1227.0,214.0 L1230.5,217.5 L1227.0,221.0 L1224.5,221.0 Z" fill="#d4d4d4"/>
<text x="1233" y="192.5" font-size="8.5" font-weight="normal" fill="#333" text-anchor="start" >0,033kW</text>
<text x="1233" y="204.5" font-size="8.5" font-weight="normal" fill="#333" text-anchor="start" >1407,0kWh</text>
</svg></body></html>
